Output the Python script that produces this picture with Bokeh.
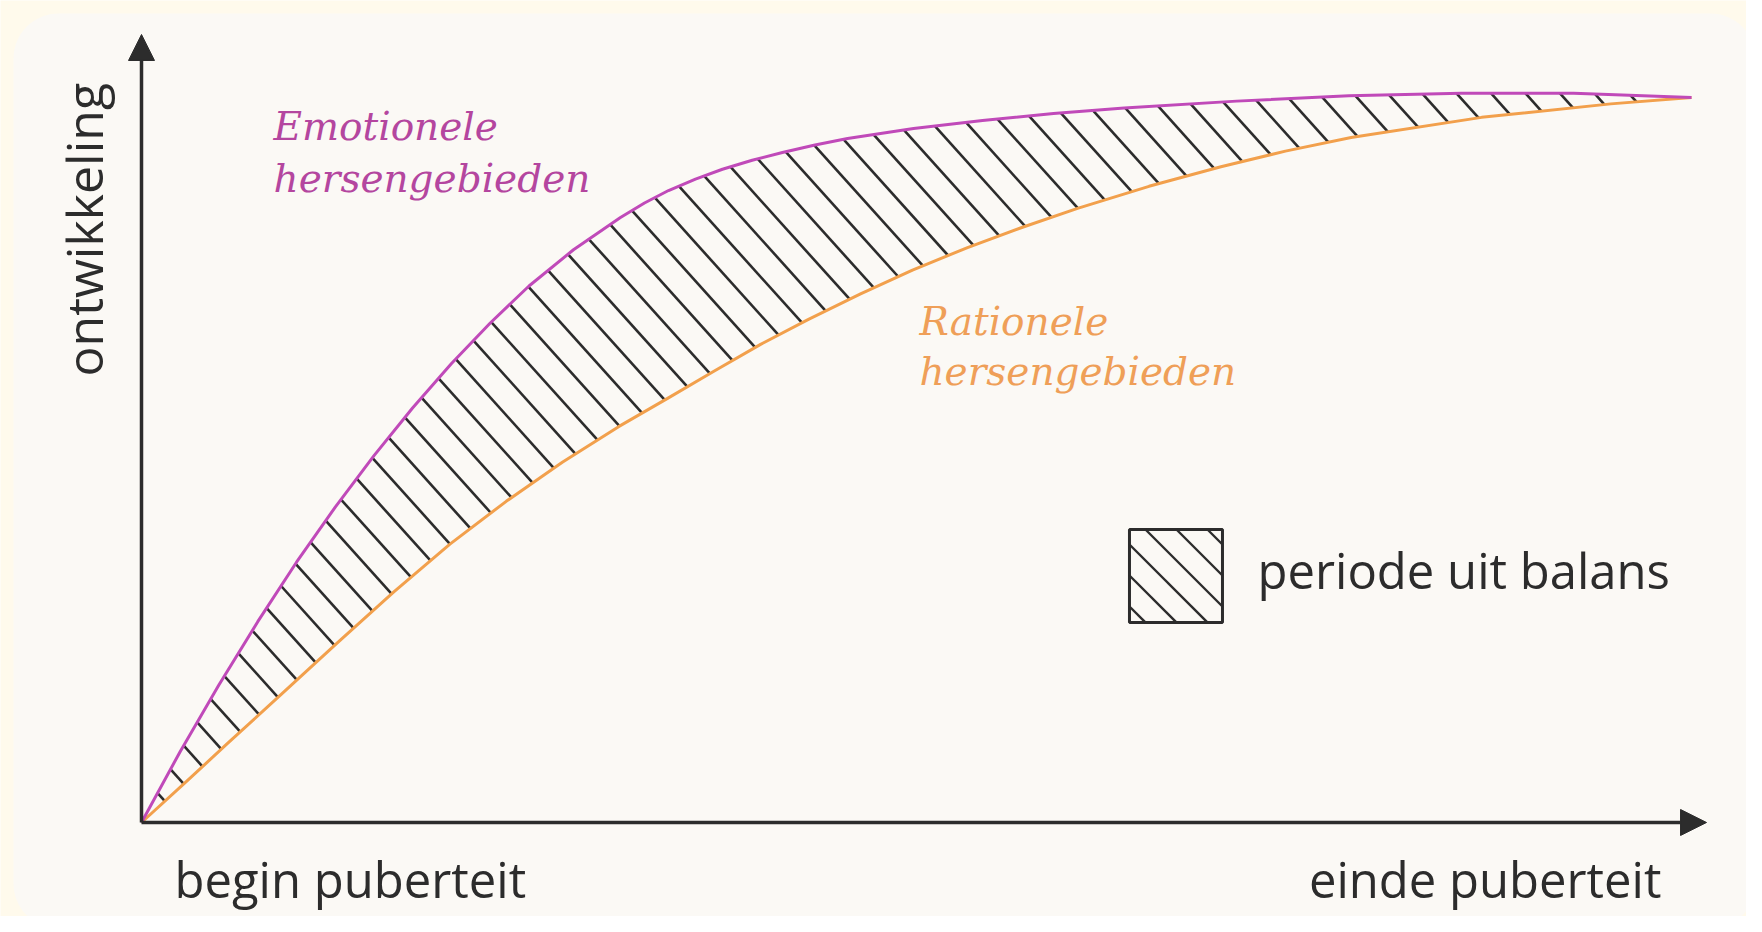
import numpy as np
from bokeh.plotting import figure
from bokeh.models import Range1d, Label, Arrow, NormalHead, BoxAnnotation
from bokeh.embed import file_html
from bokeh.resources import INLINE

# ---- data (x: 0 = begin puberteit, 100 = einde puberteit; y: ontwikkeling) ----
emo_x = [0, 2.5, 5, 7.5, 10, 12.5, 15, 17.5, 20, 22.5, 25, 27.87, 30.9, 32.45, 34.0,
         35.74, 37.48, 39.4, 41.35, 43.45, 45.55, 49.81, 54.26, 58.84, 63.4, 70.65,
         77.9, 85.15, 92.4, 100]
emo_y = [0, 9.8, 19.0, 27.7, 35.9, 43.5, 50.6, 57.2, 63.3, 68.9, 74.0, 79.0, 83.45,
         85.45, 87.17, 88.75, 90.1, 91.35, 92.41, 93.45, 94.34, 95.72, 96.83, 97.79,
         98.55, 99.5, 100.25, 100.6, 100.6, 100]

rat_x = [0, 2.87, 5.55, 9.03, 12.65, 16.28, 19.9, 23.53, 27.15, 30.78, 33.94, 36.9,
         39.94, 43.03, 46.39, 49.74, 53.29, 56.84, 60.39, 65.0, 69.64, 73.8, 78.04,
         86.46, 94.79, 100]
rat_y = [0, 5.6, 10.9, 17.7, 24.8, 31.8, 38.4, 44.3, 49.7, 54.6, 58.5, 62.2,
         65.95, 69.4, 72.9, 76.2, 79.3, 82.1, 84.7, 87.75, 90.44, 92.6, 94.47,
         97.26, 99.12, 100]

x_labels = ["begin puberteit", "einde puberteit"]
y_label = "ontwikkeling"
emo_label = ["Emotionele", "hersengebieden"]
rat_label = ["Rationele", "hersengebieden"]
legend_label = "periode uit balans"

# ---- styling ----
MAGENTA = "#C04AB9"
MAGENTA_TXT = "#B4469F"
ORANGE = "#F2A04C"
ORANGE_TXT = "#EF9F58"
DARK = "#2C2C2C"
CARD = "#FBF9F5"
OUTER = "#FFFAEC"

W, H = 1746, 916
X0, X1 = -9.097, 103.548
Y0, Y1 = -12.966, 113.379
sx = W / (X1 - X0)
sy = H / (Y1 - Y0)

p = figure(width=W, height=H, x_range=Range1d(X0, X1), y_range=Range1d(Y0, Y1),
           output_backend="svg", toolbar_location=None,
           x_axis_type=None, y_axis_type=None, min_border=0)
p.grid.visible = False
p.outline_line_color = None
p.background_fill_color = OUTER
p.border_fill_color = OUTER

# card
p.add_layout(BoxAnnotation(left=-8.26, right=104.13, top=111.59, bottom=-14.62,
                           fill_color=CARD, fill_alpha=1, line_color=None,
                           border_radius=45, level="underlay"))

# ---- hatching between the two curves: parallel strokes clipped to the band ----
theta = np.deg2rad(48)
d = 25.6                      # perpendicular spacing in px
dir_ = np.array([np.cos(theta), -np.sin(theta)])
nrm = np.array([np.sin(theta), np.cos(theta)])
u = np.arange(-2500, 2500, 0.5)
hx0, hy0, hx1, hy1 = [], [], [], []
for k in range(0, 80):
    c = 6 + k * d
    PX = c * nrm[0] + u * dir_[0]
    PY = c * nrm[1] + u * dir_[1]
    xd = PX / sx
    yd = PY / sy
    ok = (xd >= 0) & (xd <= 100)
    lo = np.interp(xd, rat_x, rat_y)
    hi = np.interp(xd, emo_x, emo_y)
    inside = ok & (yd >= lo) & (yd <= hi)
    idx = np.nonzero(inside)[0]
    if len(idx) < 4:
        continue
    a, b = idx[0], idx[-1]
    hx0.append(xd[a]); hy0.append(yd[a]); hx1.append(xd[b]); hy1.append(yd[b])
p.segment(hx0, hy0, hx1, hy1, line_color=DARK, line_width=2.6)

# curves
p.line(rat_x, rat_y, line_color=ORANGE, line_width=3, line_join="round")
p.line(emo_x, emo_y, line_color=MAGENTA, line_width=3, line_join="round")

# axes with arrow heads
p.add_layout(Arrow(end=NormalHead(size=26, fill_color=DARK, line_color=DARK),
                   x_start=0, y_start=0, x_end=0, y_end=108.69,
                   line_color=DARK, line_width=3.5))
p.add_layout(Arrow(end=NormalHead(size=26, fill_color=DARK, line_color=DARK),
                   x_start=0, y_start=0, x_end=100.97, y_end=0,
                   line_color=DARK, line_width=3.5))

SANS = "Open Sans"
SERIF = "DejaVu Serif"

p.add_layout(Label(x=2.13, y=-7.86, text=x_labels[0], text_font=SANS,
                   text_font_size="49px", text_color=DARK, text_align="left",
                   text_baseline="alphabetic"))
p.add_layout(Label(x=98.06, y=-7.86, text=x_labels[1], text_font=SANS,
                   text_font_size="49px", text_color=DARK, text_align="right",
                   text_baseline="alphabetic"))
p.add_layout(Label(x=-3.74, y=61.52, text=y_label, text_font=SANS,
                   text_font_size="50px", text_color=DARK, text_align="left",
                   text_baseline="alphabetic", angle=np.pi / 2))

for k, yy in enumerate([96.0, 88.83]):
    p.add_layout(Label(x=8.52, y=yy, text=emo_label[k], text_font=SERIF,
                       text_font_style="italic", text_font_size="39px",
                       text_color=MAGENTA_TXT, text_align="left",
                       text_baseline="alphabetic"))
for k, yy in enumerate([69.1, 62.2]):
    p.add_layout(Label(x=50.19, y=yy, text=rat_label[k], text_font=SERIF,
                       text_font_style="italic", text_font_size="39px",
                       text_color=ORANGE_TXT, text_align="left",
                       text_baseline="alphabetic"))

# legend swatch with 45-degree hatching
BL, BR, BT, BB = 63.74, 69.74, 40.41, 27.59
p.quad(left=BL, right=BR, top=BT, bottom=BB, fill_color=CARD,
       line_color=DARK, line_width=3)
bw = (BR - BL) * sx
bh = (BT - BB) * sy
lx0, ly0, lx1, ly1 = [], [], [], []
for c in [-78, -47, -16, 15, 46, 77]:        # y_down - x = c (px inside box)
    xa = max(0.0, -c); xb = min(bw, bh - c)
    if xb - xa < 2:
        continue
    lx0.append(BL + xa / sx); ly0.append(BT - (xa + c) / sy)
    lx1.append(BL + xb / sx); ly1.append(BT - (xb + c) / sy)
p.segment(lx0, ly0, lx1, ly1, line_color=DARK, line_width=2.4)

p.add_layout(Label(x=72.0, y=34.76, text=legend_label, text_font=SANS,
                   text_font_size="49px", text_color=DARK, text_align="left",
                   text_baseline="alphabetic"))

open("out.html", "w").write(file_html(p, INLINE))
